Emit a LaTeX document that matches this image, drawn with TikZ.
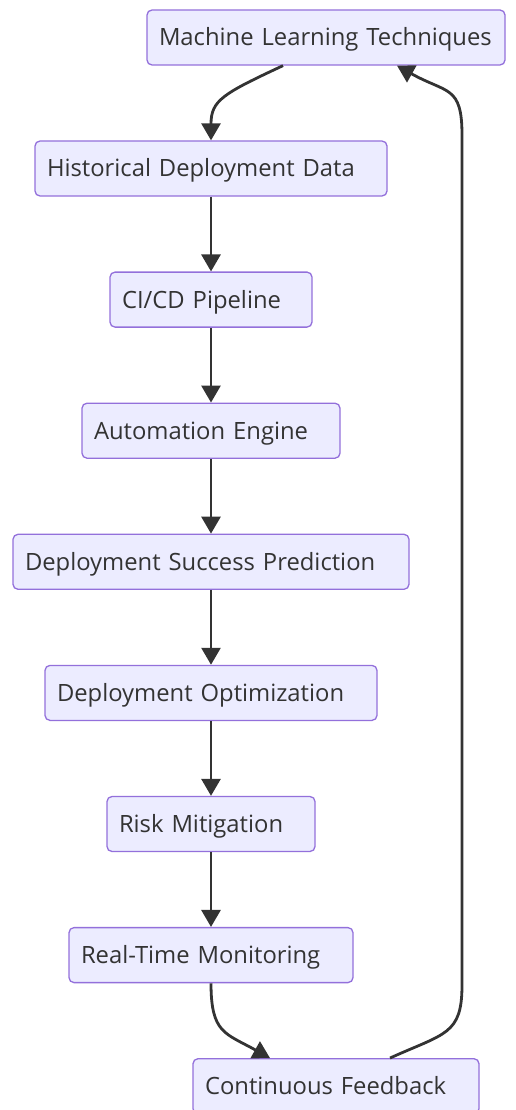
\documentclass[tikz,border=0pt]{standalone}
\usepackage{fontspec}
\setmainfont{Open Sans}
\usetikzlibrary{positioning, arrows.meta}

\definecolor{boxfill}{HTML}{ECECFF}
\definecolor{boxline}{HTML}{9370DB}
\definecolor{inkcol}{HTML}{333333}

\tikzset{
  stage/.style={draw=boxline, fill=boxfill, line width=1.3pt, rounded corners=5pt,
    minimum height=55pt, inner xsep=12pt, inner ysep=0pt, align=left,
    text height=17pt, text depth=0pt,
    text=inkcol, font=\fontsize{23.8}{28}\selectfont},
  link/.style={draw=inkcol, line width=2.8pt, -{Triangle[length=17pt,width=19pt]}}
}

\begin{document}
\begin{tikzpicture}[x=1pt, y=-1pt, node distance=74.8pt]
    \useasboundingbox (0,0) rectangle (515,1110);
    \node[stage, text width=334pt] (ml) at (326,37.5) {Machine Learning Techniques};
    \node[stage, text width=328pt] (hist) at (211,168.5) {Historical Deployment Data};
    \node[stage, text width=178pt, below=of hist] (cicd) {CI/CD Pipeline};
    \node[stage, text width=234pt, below=of cicd] (auto) {Automation Engine};
    \node[stage, text width=372pt, below=of auto] (pred) {Deployment Success Prediction};
    \node[stage, text width=308pt, below=of pred] (optim) {Deployment Optimization};
    \node[stage, text width=184pt, below=of optim] (risk) {Risk Mitigation};
    \node[stage, text width=260pt, below=of risk] (monit) {Real-Time Monitoring};
    \node[stage, text width=262pt, below=of monit, xshift=125pt] (feedb) {Continuous Feedback};

    \draw[link] ([xshift=-43pt]ml.south) .. controls +(-60,28) and +(0,-40) .. (hist.north);
    \draw[link] (hist) -- (cicd);
    \draw[link] (cicd) -- (auto);
    \draw[link] (auto) -- (pred);
    \draw[link] (pred) -- (optim);
    \draw[link] (optim) -- (risk);
    \draw[link] (risk) -- (monit);
    \draw[link] (monit.south) .. controls +(0,50) and +(-45,-25) .. ([xshift=-66pt]feedb.north);
    % way back up to the top
    \draw[link] ([xshift=54pt]feedb.north) .. controls +(55,-25) and +(0,50) .. (462,985)
        -- (462,135) .. controls +(0,-50) and +(50,28) .. ([xshift=71pt]ml.south);
\end{tikzpicture}
\end{document}
